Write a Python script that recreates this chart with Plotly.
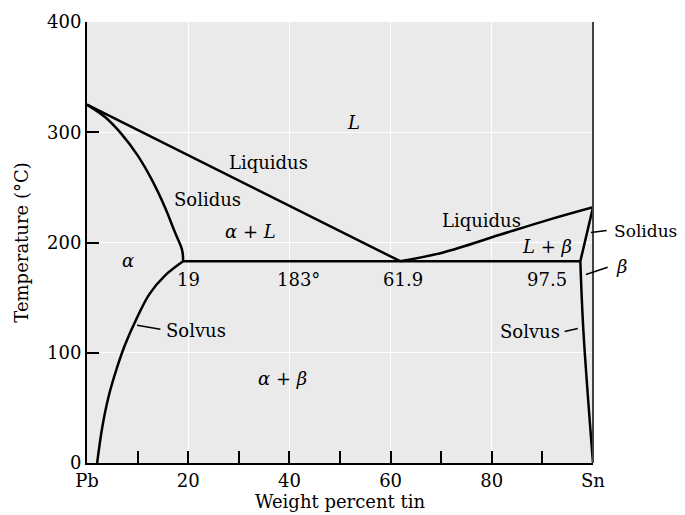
import plotly.graph_objects as go

# ---- data (weight % Sn, temperature in °C) ----
liq_left_x = [0, 61.9]
liq_left_t = [325, 183]

sol_left_x = [0, 3.5, 6.8, 10.0, 12.8, 15.4, 17.4, 18.8, 19.0]
sol_left_t = [325, 314, 298.5, 279, 257, 232, 209, 193, 183]

solv_left_x = [19.0, 15.4, 12.3, 9.6, 7.5, 5.9, 4.2, 3.0, 2.0]
solv_left_t = [183, 170, 153, 129, 107, 86, 59, 32, 0]

eut_x = [19.0, 61.9, 97.5]
eut_t = [183, 183, 183]

liq_right_x = [61.9, 70.4, 81.6, 91.5, 100]
liq_right_t = [183, 191, 207, 221, 232]

sol_right_x = [100, 97.5]
sol_right_t = [232, 183]

solv_right_x = [97.5, 98.1, 100]
solv_right_t = [183, 120, 0]

x_tickvals = [0, 20, 40, 60, 80, 100]
x_ticktext = ["Pb", "20", "40", "60", "80", "Sn"]
y_tickvals = [0, 100, 200, 300, 400]

# labels: (text, x, T)
labels = [
    ("<i>L</i>", 52.6, 309),
    ("Liquidus", 35.8, 273),
    ("Solidus", 23.9, 239),
    ("<i>α</i> + <i>L</i>", 32.4, 210),
    ("<i>α</i>", 8.1, 184),
    ("19", 20.0, 166),
    ("183°", 41.7, 166),
    ("61.9", 62.5, 166),
    ("Liquidus", 77.9, 220),
    ("<i>L</i> + <i>β</i>", 90.9, 196),
    ("97.5", 90.9, 166),
    ("Solvus", 21.6, 120),
    ("Solvus", 87.5, 119),
    ("<i>α</i> + <i>β</i>", 38.7, 77),
]
outside_labels = [
    ("Solidus", 110.3, 210, 17),
    ("<i>β</i>", 105.7, 178, 18),
]
# leaders: (head_x, head_T, tail_x, tail_T)
leaders = [
    (9.9, 125, 14.8, 121),
    (97.0, 122, 94.1, 119),
    (99.6, 209, 103.0, 211),
    (98.6, 171, 103.2, 178),
]

X_RANGE = [0, 100]
Y_RANGE = [0, 400]
FONT = "DejaVu Serif"

fig = go.Figure()
curves = [
    (liq_left_x, liq_left_t, "linear"),
    (sol_left_x, sol_left_t, "spline"),
    (solv_left_x, solv_left_t, "spline"),
    (eut_x, eut_t, "linear"),
    (liq_right_x, liq_right_t, "spline"),
    (sol_right_x, sol_right_t, "linear"),
    (solv_right_x, solv_right_t, "spline"),
]
for xs, ts, shp in curves:
    fig.add_trace(go.Scatter(x=xs, y=ts, mode="lines",
                             line=dict(color="black", width=2.5, shape=shp, smoothing=1.0),
                             showlegend=False, hoverinfo="skip"))

annotations = []
for txt, x, t in labels:
    annotations.append(dict(text=txt, x=x, y=t, xref="x", yref="y", showarrow=False,
                            xanchor="center", yanchor="middle",
                            font=dict(family=FONT, size=18, color="black")))
for txt, x, t, fs in outside_labels:
    px = (x - X_RANGE[0]) / (X_RANGE[1] - X_RANGE[0])
    annotations.append(dict(text=txt, x=px, y=t, xref="paper", yref="y", showarrow=False,
                            xanchor="center", yanchor="middle",
                            font=dict(family=FONT, size=fs, color="black")))
for hx, ht, tx, tt in leaders:
    annotations.append(dict(text="", x=hx, y=ht, xref="x", yref="y", ax=tx, ay=tt,
                            axref="x", ayref="y", showarrow=True, arrowhead=0,
                            arrowwidth=1.5, arrowcolor="black", standoff=0, startstandoff=0))

# page body has an 8px margin, so the figure is sized/offset to land in the 685x515 window
fig.update_layout(
    width=677, height=507,
    margin=dict(l=79, r=92, t=14, b=52, autoexpand=False),
    paper_bgcolor="white",
    plot_bgcolor="#eaeaea",
    font=dict(family=FONT, size=18, color="black"),
    annotations=annotations,
    xaxis=dict(range=X_RANGE, tickvals=x_tickvals, ticktext=x_ticktext,
               ticks="inside", ticklen=12, tickwidth=2, tickcolor="black",
               minor=dict(dtick=10, ticks="inside", ticklen=12, tickwidth=2, tickcolor="black", showgrid=False),
               showline=True, linecolor="black", linewidth=2,
               showgrid=True, gridcolor="white", gridwidth=1,
               zeroline=False, automargin=False,
               title=dict(text="Weight percent tin", standoff=4,
                          font=dict(family=FONT, size=18))),
    yaxis=dict(range=Y_RANGE, tickvals=y_tickvals,
               ticks="inside", ticklen=12, tickwidth=2, tickcolor="black",
               showline=True, linecolor="black", linewidth=2,
               showgrid=True, gridcolor="white", gridwidth=1,
               zeroline=False, automargin=False,
               title=dict(text="Temperature (°C)", standoff=14,
                          font=dict(family=FONT, size=18))),
)
# right-hand border (Sn side)
fig.add_shape(type="line", xref="paper", yref="paper", x0=1, x1=1, y0=0, y1=1,
              line=dict(color="#444444", width=2))

fig.write_html("out.html")
